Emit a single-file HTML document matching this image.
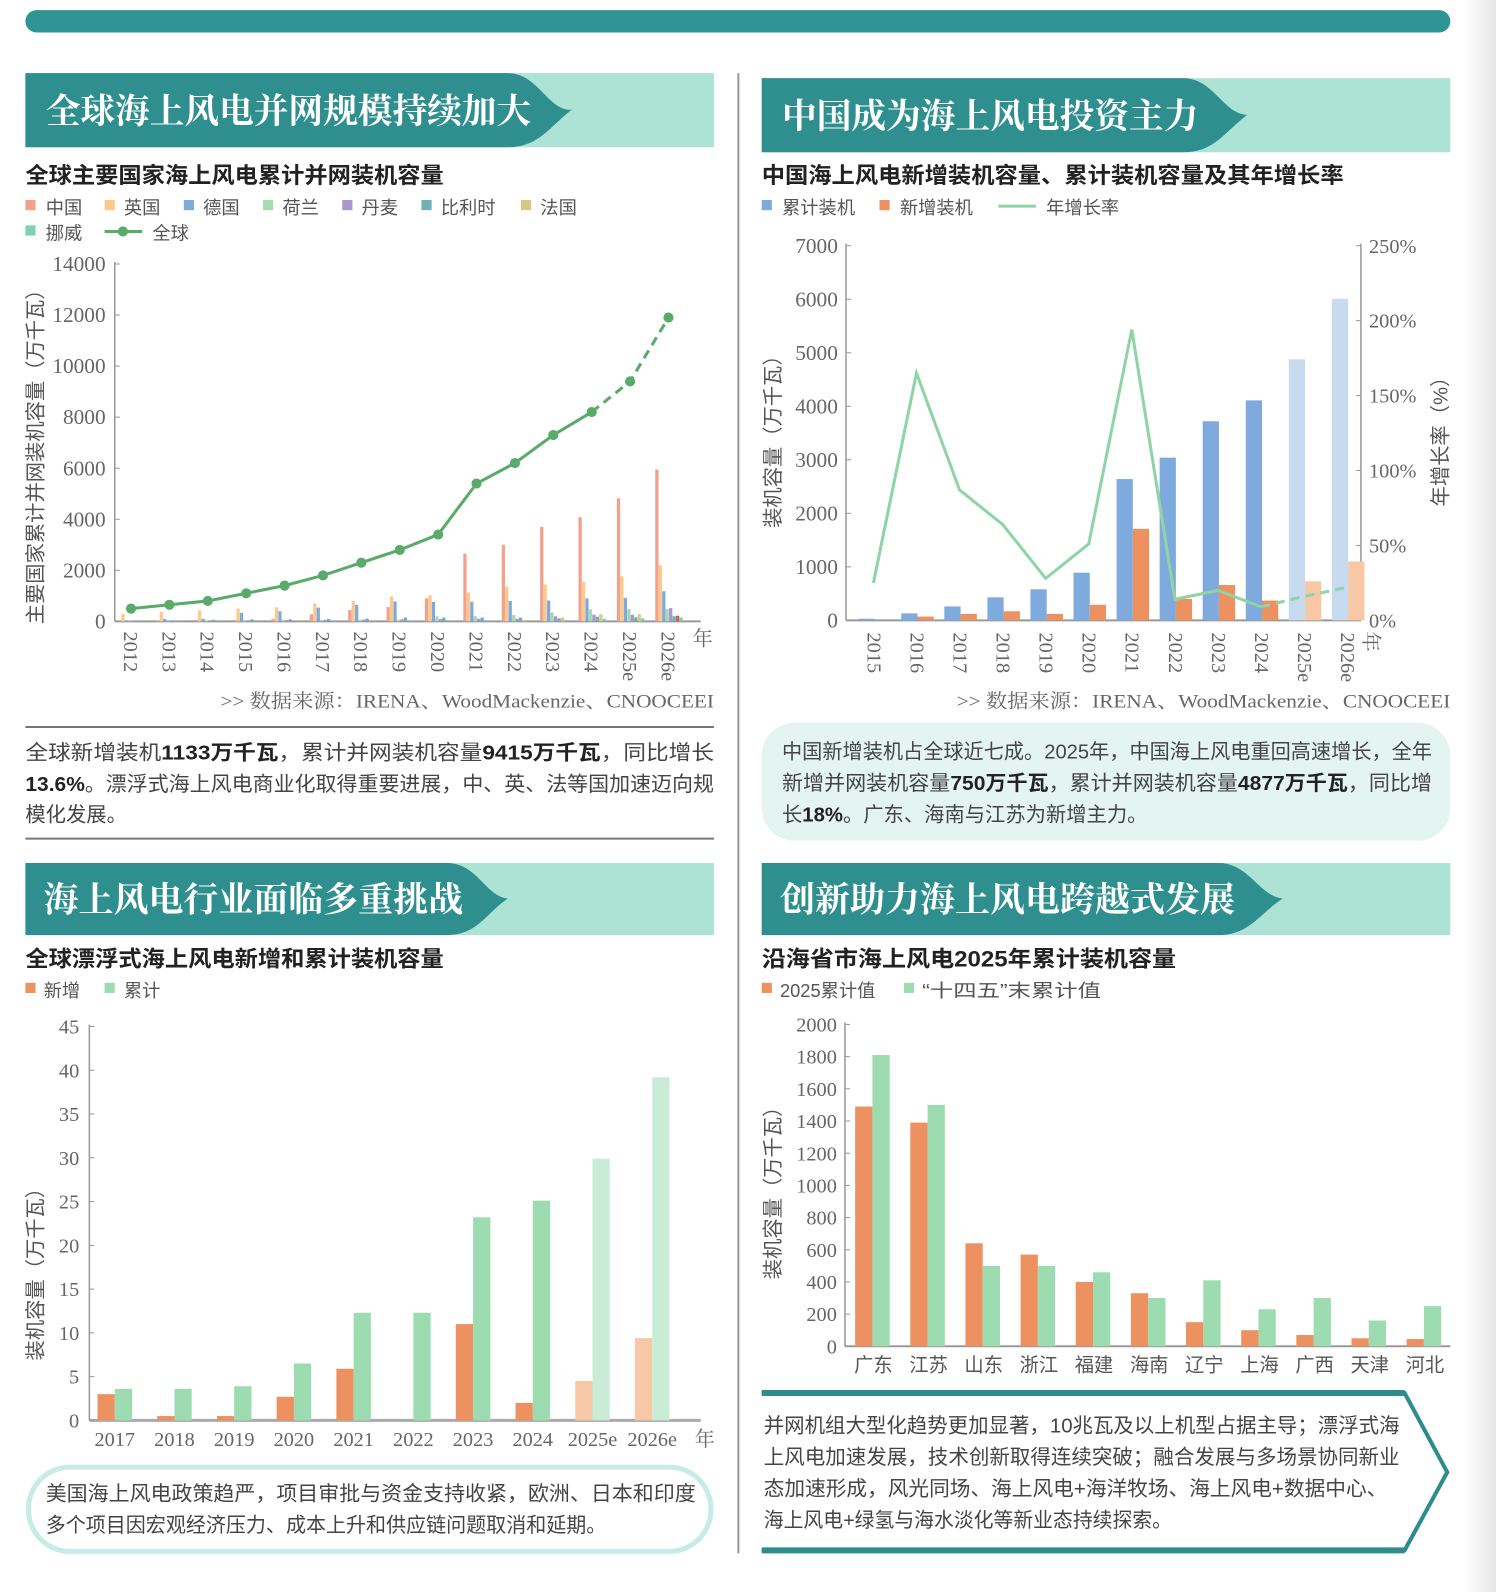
<!DOCTYPE html>
<html><head><meta charset="utf-8"><style>
html,body{margin:0;padding:0;background:#fff;}
svg{display:block;}
.t{font-family:"Liberation Serif","Noto Serif CJK SC",serif;font-weight:bold;fill:#fff;font-size:34px;}
.h{font-family:"Liberation Sans","Noto Sans CJK SC",sans-serif;font-weight:bold;font-size:22px;fill:#222;}
.lg{font-family:"Liberation Sans","Noto Sans CJK SC",sans-serif;font-size:18px;fill:#555;}
.tk{font-family:"Liberation Serif","Noto Serif CJK SC",serif;font-size:19px;fill:#666;}
.p{font-family:"Liberation Sans","Noto Sans CJK SC",sans-serif;font-size:20px;fill:#444;}
</style></head><body>
<svg id="S" width="1496" height="1592" viewBox="0 0 1473 1568" preserveAspectRatio="none" xmlns="http://www.w3.org/2000/svg">
<defs><linearGradient id="gr" x1="0" x2="1"><stop offset="0" stop-color="#fff"/><stop offset="1" stop-color="#e6e6e6"/></linearGradient></defs>
<rect x="1440" y="0" width="33" height="1568" fill="url(#gr)"/>
<rect x="25" y="10" width="1403" height="22" rx="11" fill="#2f9494"/>
<line x1="727" y1="72" x2="727" y2="1530" stroke="#999" stroke-width="2"/>

<rect x="25" y="72" width="678" height="73" fill="#ade3d4"/>
<path d="M25,72 H500 C530,72 540,110 563,108 C540,126 530,145 500,145 H25 Z" fill="#2f8f8f"/>
<text x="45" y="121" class="t" textLength="478" lengthAdjust="spacingAndGlyphs">全球海上风电并网规模持续加大</text>
<rect x="750" y="77" width="678" height="73" fill="#ade3d4"/>
<path d="M750,77 H1165 C1195,77 1205,113 1228,113 C1205,131 1195,150 1165,150 H750 Z" fill="#2f8f8f"/>
<text x="770" y="126" class="t" textLength="410" lengthAdjust="spacingAndGlyphs">中国成为海上风电投资主力</text>
<rect x="25" y="850" width="678" height="71" fill="#ade3d4"/>
<path d="M25,850 H440 C470,850 478,883 500,885 C478,900 470,921 440,921 H25 Z" fill="#2f8f8f"/>
<text x="43" y="898" class="t" textLength="413" lengthAdjust="spacingAndGlyphs">海上风电行业面临多重挑战</text>
<rect x="750" y="850" width="678" height="71" fill="#ade3d4"/>
<path d="M750,850 H1200 C1230,850 1240,883 1263,885 C1240,900 1230,921 1200,921 H750 Z" fill="#2f8f8f"/>
<text x="768" y="898" class="t" textLength="448" lengthAdjust="spacingAndGlyphs">创新助力海上风电跨越式发展</text>

<text x="25" y="180" class="h" textLength="412" lengthAdjust="spacingAndGlyphs">全球主要国家海上风电累计并网装机容量</text>
<text x="750" y="180" class="h" textLength="573" lengthAdjust="spacingAndGlyphs">中国海上风电新增装机容量、累计装机容量及其年增长率</text>
<text x="25" y="952" class="h" textLength="412" lengthAdjust="spacingAndGlyphs">全球漂浮式海上风电新增和累计装机容量</text>
<text x="750" y="952" class="h" textLength="408" lengthAdjust="spacingAndGlyphs">沿海省市海上风电2025年累计装机容量</text>

<g class="lg">
<rect x="25" y="197" width="10" height="10" fill="#f4a08a"/><text x="45" y="211">中国</text>
<rect x="103" y="197" width="10" height="10" fill="#fcc98b"/><text x="122" y="211">英国</text>
<rect x="181" y="197" width="10" height="10" fill="#7faadd"/><text x="200" y="211">德国</text>
<rect x="259" y="197" width="10" height="10" fill="#a5dbb0"/><text x="278" y="211">荷兰</text>
<rect x="337" y="197" width="10" height="10" fill="#a796d0"/><text x="356" y="211">丹麦</text>
<rect x="415" y="197" width="10" height="10" fill="#6fb1b8"/><text x="434" y="211">比利时</text>
<rect x="513" y="197" width="10" height="10" fill="#d9c882"/><text x="532" y="211">法国</text>
<rect x="25" y="222" width="10" height="10" fill="#7dcfb6"/><text x="45" y="236">挪威</text>
<line x1="103" y1="228" x2="140" y2="228" stroke="#5aaa6a" stroke-width="3"/><circle cx="121" cy="228" r="5" fill="#5aaa6a"/><text x="150" y="236">全球</text>
<rect x="750" y="197" width="10" height="10" fill="#7faadd"/><text x="770" y="211">累计装机</text>
<rect x="866" y="197" width="10" height="10" fill="#ee9160"/><text x="886" y="211">新增装机</text>
<line x1="983" y1="203" x2="1020" y2="203" stroke="#8fd4a5" stroke-width="3"/><text x="1030" y="211">年增长率</text>
<rect x="25" y="968" width="10" height="10" fill="#ee9160"/><text x="43" y="982">新增</text>
<rect x="103" y="968" width="10" height="10" fill="#9ddbb0"/><text x="122" y="982">累计</text>
<rect x="750" y="968" width="10" height="10" fill="#ee9160"/><text x="768" y="982">2025累计值</text>
<rect x="890" y="968" width="10" height="10" fill="#9ddbb0"/><text x="908" y="982" textLength="176" lengthAdjust="spacingAndGlyphs">“十四五”末累计值</text>
</g>

<g id="c1"></g><g id="c2"></g><g id="c3"></g><g id="c4"></g>

<text class="lg" transform="translate(42,445) rotate(-90)" text-anchor="middle" style="font-size:20px">主要国家累计并网装机容量（万千瓦）</text>
<text class="lg" transform="translate(768,430) rotate(-90)" text-anchor="middle" style="font-size:20px">装机容量（万千瓦）</text>
<text class="lg" transform="translate(1425,430) rotate(-90)" text-anchor="middle" style="font-size:20px">年增长率（%）</text>
<text class="lg" transform="translate(42,1250) rotate(-90)" text-anchor="middle" style="font-size:20px">装机容量（万千瓦）</text>
<text class="lg" transform="translate(768,1170) rotate(-90)" text-anchor="middle" style="font-size:20px">装机容量（万千瓦）</text>

<text x="703" y="697" text-anchor="end" class="tk" style="font-size:19px" textLength="486" lengthAdjust="spacingAndGlyphs">&gt;&gt;  数据来源：IRENA、WoodMackenzie、CNOOCEEI</text>
<text x="1428" y="697" text-anchor="end" class="tk" style="font-size:19px" textLength="486" lengthAdjust="spacingAndGlyphs">&gt;&gt;  数据来源：IRENA、WoodMackenzie、CNOOCEEI</text>

<line x1="25" y1="716" x2="703" y2="716" stroke="#777" stroke-width="2"/>
<line x1="25" y1="826" x2="703" y2="826" stroke="#777" stroke-width="2"/>
<text x="25" y="748" class="p" textLength="678" lengthAdjust="spacingAndGlyphs">全球新增装机<tspan font-weight="bold" fill="#222">1133万千瓦</tspan>，累计并网装机容量<tspan font-weight="bold" fill="#222">9415万千瓦</tspan>，同比增长</text>
<text x="25" y="779" class="p" textLength="678" lengthAdjust="spacingAndGlyphs"><tspan font-weight="bold" fill="#222">13.6%</tspan>。漂浮式海上风电商业化取得重要进展，中、英、法等国加速迈向规</text>
<text x="25" y="809" class="p">模化发展。</text>

<rect x="750" y="712" width="678" height="116" rx="32" fill="#e3f4f1"/>
<text x="770" y="747" class="p" textLength="640" lengthAdjust="spacingAndGlyphs">中国新增装机占全球近七成。2025年，中国海上风电重回高速增长，全年</text>
<text x="770" y="778" class="p" textLength="640" lengthAdjust="spacingAndGlyphs">新增并网装机容量<tspan font-weight="bold" fill="#222">750万千瓦</tspan>，累计并网装机容量<tspan font-weight="bold" fill="#222">4877万千瓦</tspan>，同比增</text>
<text x="770" y="809" class="p">长<tspan font-weight="bold" fill="#222">18%</tspan>。广东、海南与江苏为新增主力。</text>

<rect x="28" y="1445" width="672" height="83" rx="41" fill="#fff" stroke="#c7ebe6" stroke-width="5"/>
<text x="45" y="1478" class="p" textLength="640" lengthAdjust="spacingAndGlyphs">美国海上风电政策趋严，项目审批与资金支持收紧，欧洲、日本和印度</text>
<text x="45" y="1509" class="p" textLength="552" lengthAdjust="spacingAndGlyphs">多个项目因宏观经济压力、成本上升和供应链问题取消和延期。</text>

<polyline points="750,1372 1383,1372 1425,1450 1383,1527 750,1527" fill="none" stroke="#2e8c8c" stroke-width="4"/>
<line x1="750" y1="1372" x2="1383" y2="1372" stroke="#2e8c8c" stroke-width="6"/>
<line x1="750" y1="1527" x2="1383" y2="1527" stroke="#2e8c8c" stroke-width="6"/>
<text x="752" y="1411" class="p" textLength="626" lengthAdjust="spacingAndGlyphs">并网机组大型化趋势更加显著，10兆瓦及以上机型占据主导；漂浮式海</text>
<text x="752" y="1442" class="p" textLength="626" lengthAdjust="spacingAndGlyphs">上风电加速发展，技术创新取得连续突破；融合发展与多场景协同新业</text>
<text x="752" y="1473" class="p" textLength="614" lengthAdjust="spacingAndGlyphs">态加速形成，风光同场、海上风电+海洋牧场、海上风电+数据中心、</text>
<text x="752" y="1504" class="p" textLength="402" lengthAdjust="spacingAndGlyphs">海上风电+绿氢与海水淡化等新业态持续探索。</text>
</svg>
<script>
var NS="http://www.w3.org/2000/svg";
function el(g,t,a,txt){var e=document.createElementNS(NS,t);for(var k in a)e.setAttribute(k,a[k]);if(txt!==undefined)e.textContent=txt;g.appendChild(e);return e;}
(function(){var g=document.getElementById('c1');var y0=612,sc=352/14000,ax=113;
el(g,'line',{x1:ax,y1:258,x2:ax,y2:y0,stroke:'#999','stroke-width':1.5});
el(g,'line',{x1:ax,y1:y0,x2:690,y2:y0,stroke:'#999','stroke-width':2});
for(var v=0;v<=14000;v+=2000){var y=y0-v*sc;el(g,'line',{x1:ax,y1:y,x2:ax+5,y2:y,stroke:'#999'});el(g,'text',{x:104,y:y+7,'text-anchor':'end','class':'tk',style:'font-size:21px'},v);}
var yrs=['2012','2013','2014','2015','2016','2017','2018','2019','2020','2021','2022','2023','2024','2025e','2026e'];
var cols=['#f4a08a','#fcc98b','#7faadd','#a5dbb0','#a796d0','#6fb1b8','#d9c882','#7dcfb6'];
var D=[[0,30,60,60,100,280,440,560,900,2650,3000,3700,4080,4820,5950],
[300,380,440,500,550,700,800,980,1020,1120,1350,1450,1550,1770,2200],
[40,100,100,330,400,540,650,780,770,770,800,820,900,920,1180],
[20,20,30,30,60,60,60,60,200,200,250,350,470,480,480],
[30,40,40,40,50,60,70,80,90,100,100,200,260,260,520],
[20,30,60,80,80,90,110,150,150,150,150,120,180,160,200],
[0,0,0,0,0,0,0,0,0,0,50,150,280,280,220],
[10,10,10,10,10,10,10,10,10,10,10,60,100,120,150]];
var G=[500,650,800,1100,1400,1800,2300,2800,3400,5400,6200,7300,8200,9400,11900];
var pts=[];
for(var i=0;i<15;i++){var x=129+37.8*i;
for(var c=0;c<8;c++){var h=D[c][i]*sc;if(h>0)el(g,'rect',{x:x-13+c*3.4,y:y0-h,width:3.2,height:h,fill:(c==6&&i==14)?'#e05a4a':cols[c]});}
el(g,'text',{'class':'tk',style:'font-size:20px',transform:'translate('+(x-7)+','+(y0+10)+') rotate(90)'},yrs[i]);
pts.push([x,y0-G[i]*sc]);}
el(g,'text',{'class':'tk',style:'font-size:20px',x:682,y:636},'年');
el(g,'polyline',{points:pts.slice(0,13).join(' '),fill:'none',stroke:'#5aaa6a','stroke-width':3});
el(g,'polyline',{points:pts.slice(12).join(' '),fill:'none',stroke:'#5aaa6a','stroke-width':3,'stroke-dasharray':'9,6'});
pts.forEach(function(p){el(g,'circle',{cx:p[0],cy:p[1],r:5,fill:'#5aaa6a'});});
})();
(function(){var g=document.getElementById('c2');var y0=611,sc=369/7000,ax=833,rx=1340;
el(g,'line',{x1:ax,y1:240,x2:ax,y2:y0,stroke:'#999','stroke-width':1.5});
el(g,'line',{x1:rx,y1:240,x2:rx,y2:y0,stroke:'#999','stroke-width':1.5});
el(g,'line',{x1:ax,y1:y0,x2:rx,y2:y0,stroke:'#999','stroke-width':2});
for(var v=0;v<=7000;v+=1000){var y=y0-v*sc;el(g,'line',{x1:ax,y1:y,x2:ax+5,y2:y,stroke:'#999'});el(g,'text',{x:825,y:y+7,'text-anchor':'end','class':'tk',style:'font-size:21px'},v);}
for(var p=0;p<=250;p+=50){var y=y0-p*1.476;el(g,'line',{x1:rx-5,y1:y,x2:rx,y2:y,stroke:'#999'});el(g,'text',{x:1348,y:y+7,'class':'tk',style:'font-size:20px'},p+'%');}
var yrs=['2015','2016','2017','2018','2019','2020','2021','2022','2023','2024','2025e','2026e'];
var C=[30,130,260,430,580,890,2640,3040,3720,4110,4877,6010];
var N=[0,70,120,170,120,290,1710,400,660,370,730,1100];
var R=[25,165,87,64,28,51,194,14,20,9,16,22];
var pts=[];
for(var i=0;i<12;i++){var x=845+42.4*i;var f=i>=10;
el(g,'rect',{x:x,y:y0-C[i]*sc,width:16,height:C[i]*sc,fill:f?'#c6daf0':'#7faadd'});
if(N[i])el(g,'rect',{x:x+16,y:y0-N[i]*sc,width:16,height:N[i]*sc,fill:f?'#f7c7a6':'#ee9160'});
el(g,'text',{'class':'tk',style:'font-size:20px',transform:'translate('+(x+9)+','+(y0+12)+') rotate(90)'},yrs[i]);
pts.push([x+15,y0-R[i]*1.476]);}
el(g,'text',{'class':'tk',style:'font-size:20px',transform:'translate(1343,622) rotate(90)'},'年');
el(g,'polyline',{points:pts.slice(0,10).join(' '),fill:'none',stroke:'#8fd4a5','stroke-width':3});
el(g,'polyline',{points:pts.slice(9).join(' '),fill:'none',stroke:'#8fd4a5','stroke-width':3,'stroke-dasharray':'9,6'});
})();
(function(){var g=document.getElementById('c3');var y0=1399,sc=388/45,ax=88;
el(g,'line',{x1:ax,y1:1009,x2:ax,y2:y0,stroke:'#999','stroke-width':1.5});
el(g,'line',{x1:ax,y1:y0,x2:690,y2:y0,stroke:'#aaa','stroke-width':3});
for(var v=0;v<=45;v+=5){var y=y0-v*sc;el(g,'line',{x1:ax,y1:y,x2:ax+5,y2:y,stroke:'#999'});el(g,'text',{x:78,y:y+7,'text-anchor':'end','class':'tk',style:'font-size:20px'},v);}
var yrs=['2017','2018','2019','2020','2021','2022','2023','2024','2025e','2026e'];
var N=[3,0.5,0.5,2.7,5.9,0,11,2,4.5,9.4],C=[3.6,3.6,3.9,6.5,12.3,12.3,23.2,25.1,29.9,39.2];
for(var i=0;i<10;i++){var x=113+58.8*i;var f=i>=8;
if(N[i])el(g,'rect',{x:x-17,y:y0-N[i]*sc,width:17,height:N[i]*sc,fill:f?'#f7c7a6':'#ee9160'});
el(g,'rect',{x:x,y:y0-C[i]*sc,width:17,height:C[i]*sc,fill:f?'#c8ecd6':'#9ddbb0'});
el(g,'text',{x:x,y:1424,'text-anchor':'middle','class':'tk',style:'font-size:20px'},yrs[i]);}
el(g,'text',{x:684,y:1424,'class':'tk',style:'font-size:20px'},'年');
})();
(function(){var g=document.getElementById('c4');var y0=1326,sc=317/2000,ax=832;
el(g,'line',{x1:ax,y1:1007,x2:ax,y2:y0,stroke:'#999','stroke-width':1.5});
el(g,'line',{x1:ax,y1:y0,x2:1428,y2:y0,stroke:'#999','stroke-width':2});
for(var v=0;v<=2000;v+=200){var y=y0-v*sc;el(g,'line',{x1:ax,y1:y,x2:ax+5,y2:y,stroke:'#999'});el(g,'text',{x:824,y:y+7,'text-anchor':'end','class':'tk',style:'font-size:20px'},v);}
var cats=['广东','江苏','山东','浙江','福建','海南','辽宁','上海','广西','天津','河北'];
var A=[1490,1390,640,570,400,330,150,100,70,50,45],B=[1810,1500,500,500,460,300,410,230,300,160,250];
for(var i=0;i<11;i++){var x=860+54.3*i;
el(g,'rect',{x:x-18,y:y0-A[i]*sc,width:17,height:A[i]*sc,fill:'#ee9160'});
el(g,'rect',{x:x-1,y:y0-B[i]*sc,width:17,height:B[i]*sc,fill:'#9ddbb0'});
el(g,'text',{x:x,y:1351,'text-anchor':'middle','class':'lg',style:'font-size:19px;fill:#555'},cats[i]);}
})();
</script>
</body></html>
